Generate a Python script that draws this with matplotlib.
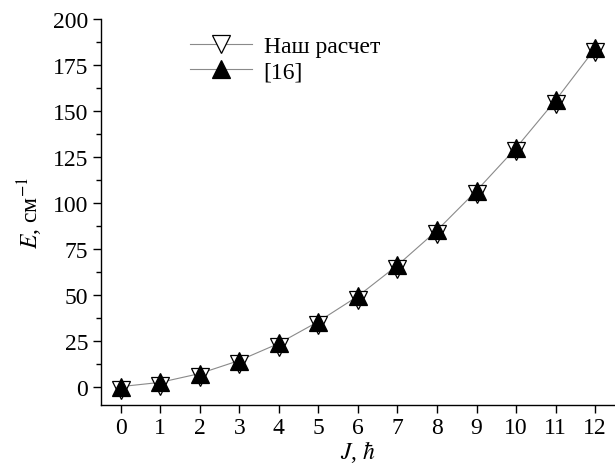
import matplotlib
matplotlib.use("Agg")
import matplotlib.pyplot as plt
from matplotlib.lines import Line2D
from matplotlib.ticker import MultipleLocator

# Data
J = [0, 1, 2, 3, 4, 5, 6, 7, 8, 9, 10, 11, 12]
E_ours = [-2.0, 0.4, 5.2, 12.2, 21.6, 33.4, 47.2, 64.0, 83.0, 104.6, 128.0, 153.8, 182.0]
E_ref16 = [0.0, 2.3, 7.1, 14.2, 23.5, 35.4, 49.2, 66.0, 85.0, 106.6, 129.9, 155.8, 184.0]

plt.rcParams['font.family'] = ['Liberation Serif', 'DejaVu Serif']
plt.rcParams['mathtext.fontset'] = 'stix'
plt.rcParams['font.size'] = 17

fig = plt.figure(figsize=(6.15, 4.64), dpi=100)
ax = fig.add_axes([0.164, 0.125, 0.836, 0.832])

line_kw = dict(color='#8a8a8a', lw=0.8)
ours_kw = dict(marker='v', ms=12.5, mfc='white', mec='black', mew=0.9)
ref_kw = dict(marker='^', ms=13, mfc='black', mec='black', mew=0.9)

# connecting curve
ax.plot(J, E_ref16, **line_kw, zorder=1)
ax.plot(J, E_ours, ls='none', **ours_kw, zorder=2)
ax.plot(J, E_ref16, ls='none', **ref_kw, zorder=3)

ax.set_xlim(-0.5, 12.5)
ax.set_ylim(-10, 200)
ax.set_xticks(J)
ax.yaxis.set_major_locator(MultipleLocator(25))
ax.yaxis.set_minor_locator(MultipleLocator(12.5))

for s in ['top', 'right']:
    ax.spines[s].set_visible(False)
ax.spines['left'].set_linewidth(1.0)
ax.spines['bottom'].set_linewidth(1.0)
ax.tick_params(which='major', direction='out', length=6, width=1.0, pad=3)
ax.tick_params(which='minor', direction='out', length=3.5, width=1.0)

ax.set_xlabel('$J$, $\\hbar$', labelpad=0)
ax.set_ylabel('$E$, см$^{-1}$', labelpad=6)

handles = [Line2D([], [], **line_kw, **ours_kw),
           Line2D([], [], **line_kw, **ref_kw)]
ax.legend(handles, ['Наш расчет', '[16]'], loc='upper left',
          bbox_to_anchor=(0.133, 1.012), frameon=False,
          handlelength=2.6, handletextpad=0.5, labelspacing=0.15, fontsize=17)

fig.savefig('out.png', dpi=100)
